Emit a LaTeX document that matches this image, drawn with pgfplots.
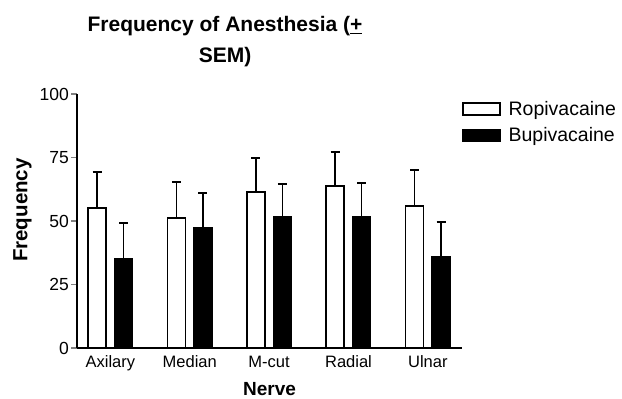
\documentclass[border=0pt]{standalone}
\usepackage{fontspec}
\setmainfont{Liberation Sans}
\usepackage{pgfplots}
\pgfplotsset{compat=1.18}
\begin{document}
\begin{tikzpicture}[x=1pt,y=1pt]
\useasboundingbox (0,0) rectangle (622,399);
\node[anchor=base,inner sep=0pt,font=\fontsize{21}{24}\selectfont\bfseries] at (225,367) {Frequency of Anesthesia (\underline{+}};
\node[anchor=base,inner sep=0pt,font=\fontsize{21}{24}\selectfont\bfseries] at (225,336) {SEM)};
\begin{axis}[
  at={(77pt,51pt)}, anchor=south west,
  scale only axis, width=385pt, height=254pt,
  xmin=-0.42, xmax=4.43, ymin=0, ymax=100,
  axis x line*=bottom, axis y line*=left,
  axis line style={line width=1.6pt},
  ybar=8.5pt, bar width=18pt,
  ytick={0,25,50,75,100},
  xtick={0,1,2,3,4},
  xticklabels={Axilary,Median,M-cut,Radial,Ulnar},
  major x tick style={draw=none},
  tick align=outside,
  major tick length=6pt,
  ytick style={line width=1.4pt},
  /pgf/number format/assume math mode=true,
  yticklabel style={font=\fontsize{17.5}{19}\selectfont, inner sep=2pt},
  xticklabel style={font=\fontsize{16.5}{18}\selectfont, inner sep=1.5pt},
  xlabel={Nerve}, ylabel={Frequency},
  xlabel style={font=\fontsize{19}{21}\selectfont\bfseries, at={(rel axis cs:0.5,0)}, anchor=base, inner sep=0pt, yshift=-47.5pt},
  ylabel style={font=\fontsize{20.5}{22}\selectfont\bfseries, at={(rel axis cs:0,0.543)}, anchor=center, yshift=54.5pt},
  legend style={at={(rel axis cs:1,1)}, anchor=north west, draw=none, fill=none,
    font=\fontsize{19.5}{21}\selectfont, inner sep=0pt, yshift=-7pt,
    row sep=11pt, column sep=8pt, nodes={inner sep=0pt}},
  legend cell align=left,
  legend image code/.code={\draw[#1,line width=1.4pt] (0pt,-6pt) rectangle (37pt,6pt);},
  clip=false,
]
\addplot[fill=white, draw=black, line width=1.5pt,
  error bars/.cd, y dir=plus, y explicit,
  error bar style={line width=1.5pt, black},
  error mark options={rotate=90, mark size=4.5pt, line width=1.5pt, black}]
  coordinates {(0,55.1) +- (0,14.2) (1,51.2) +- (0,14.2) (2,61.4) +- (0,13.4) (3,63.8) +- (0,13.4) (4,55.9) +- (0,14.2)};
\addplot[fill=black, draw=black, line width=1.5pt,
  error bars/.cd, y dir=plus, y explicit,
  error bar style={line width=1.5pt, black},
  error mark options={rotate=90, mark size=4.5pt, line width=1.5pt, black}]
  coordinates {(0,35.0) +- (0,14.2) (1,47.2) +- (0,13.8) (2,51.6) +- (0,13.0) (3,51.6) +- (0,13.4) (4,35.8) +- (0,13.8)};
\legend{Ropivacaine,Bupivacaine}
\end{axis}
\end{tikzpicture}
\end{document}
